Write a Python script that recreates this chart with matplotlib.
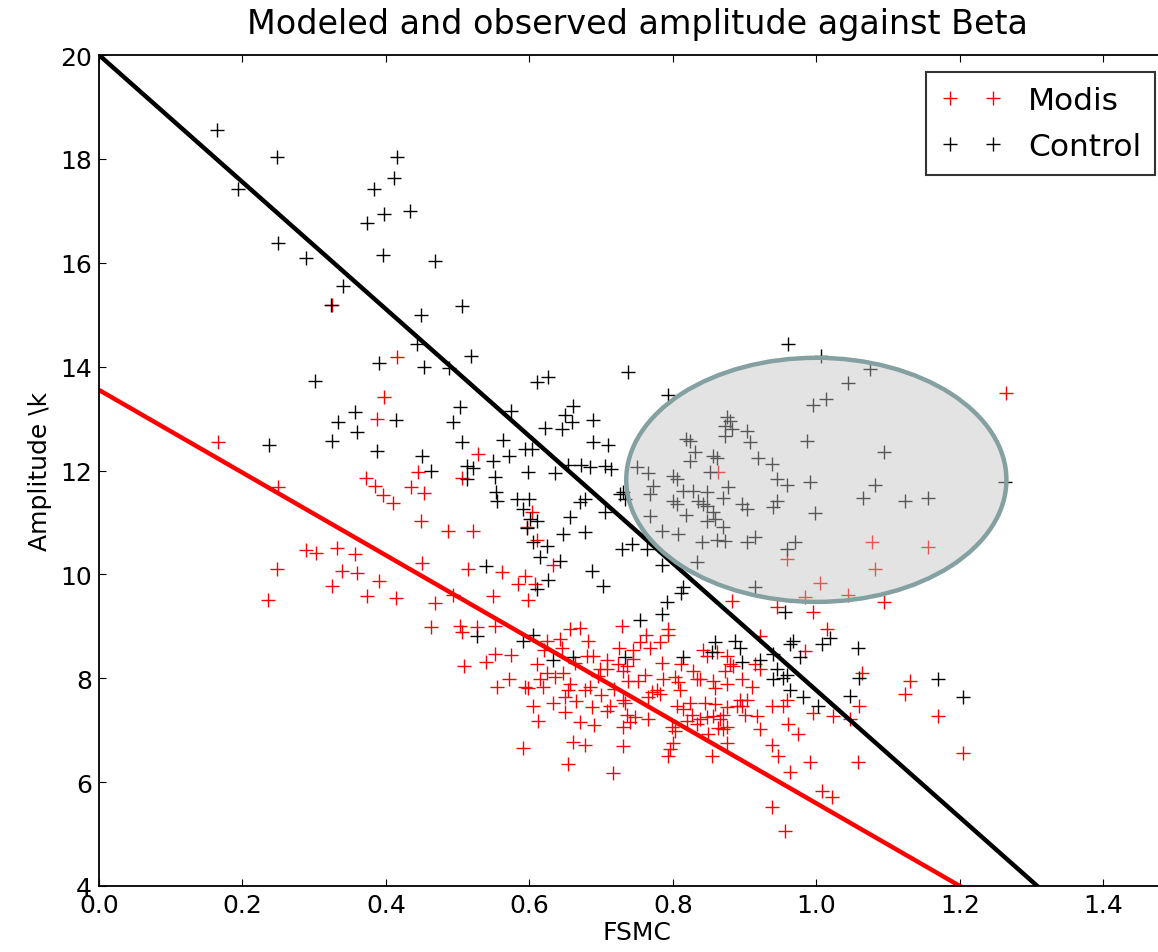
import numpy as np
import matplotlib
matplotlib.use('Agg')
import matplotlib.pyplot as plt
from matplotlib.patches import Ellipse

# Modis points (FSMC, amplitude)
modis_x = [0.325, 0.415, 0.397, 0.387, 0.166, 0.249, 0.372, 0.385, 0.396, 0.41, 0.445, 0.435, 0.453,
           0.528, 0.506, 0.449, 0.486, 0.521, 0.603, 0.597, 0.61, 0.288, 0.302, 0.332, 0.357, 0.248,
           0.339, 0.36, 0.39, 0.325, 0.236, 0.373, 0.414, 0.45, 0.514, 0.562, 0.594, 0.584, 0.608,
           0.633, 0.549, 0.598, 0.468, 0.493, 0.463, 0.503, 0.506, 0.527, 0.552, 0.509, 0.54, 0.552,
           0.574, 0.61, 0.624, 0.615, 0.555, 0.572, 0.594, 0.598, 0.619, 0.624, 0.643, 0.656, 0.67,
           0.682, 0.645, 0.647, 0.656, 0.654, 0.677, 0.684, 0.68, 0.689, 0.649, 0.633, 0.605, 0.687,
           0.612, 0.67, 0.661, 0.677, 0.591, 0.654,
           0.729, 0.793, 0.793, 0.762, 0.754, 0.768, 0.744, 0.782, 0.785, 0.708, 0.708, 0.698, 0.723,
           0.736, 0.73, 0.737, 0.761, 0.786, 0.778, 0.771, 0.782, 0.803, 0.807, 0.81, 0.812, 0.828,
           0.833, 0.838, 0.856, 0.859, 0.842, 0.847, 0.861, 0.875, 0.879, 0.884, 0.872, 0.896, 0.91,
           0.921, 0.914, 0.921, 0.875, 0.712, 0.708, 0.73, 0.733, 0.765, 0.747, 0.74, 0.73, 0.765,
           0.806, 0.814, 0.824, 0.826, 0.82, 0.833, 0.838, 0.845, 0.859, 0.847, 0.856, 0.866, 0.87,
           0.875, 0.889, 0.896, 0.893, 0.903, 0.9, 0.863, 0.87, 0.875, 0.799, 0.803, 0.849, 0.8,
           0.796, 0.793, 0.854, 0.875, 0.917, 0.921, 0.938, 0.959, 0.953, 0.96, 0.974, 0.938, 0.946,
           0.963, 0.938, 0.73, 0.716, 0.736,
           1.005, 0.984, 1.044, 1.095, 0.995, 1.015, 0.984, 1.063, 1.13, 1.123, 1.06, 1.169, 0.995,
           1.023, 1.047, 0.991, 1.058, 1.204, 1.008, 1.022, 0.957,
           1.264, 0.882, 0.945, 0.863, 0.959, 1.077, 1.155, 1.082,
           0.62, 0.636, 0.663, 0.695, 0.718, 0.65, 0.69, 0.725, 0.752, 0.665, 0.7, 0.745]
modis_y = [15.18, 14.18, 13.41, 13.0, 12.54, 11.68, 11.85, 11.7, 11.52, 11.37, 11.97, 11.68, 11.56,
           12.31, 11.85, 11.02, 10.83, 10.83, 11.21, 10.92, 10.67, 10.46, 10.42, 10.5, 10.4, 10.1,
           10.06, 10.02, 9.88, 9.77, 9.5, 9.58, 9.54, 10.21, 10.1, 10.04, 9.96, 9.81, 9.81,
           10.19, 9.58, 9.5, 9.44, 9.61, 8.98, 9.0, 8.9, 8.98, 9.0, 8.23, 8.32, 8.46,
           8.44, 8.27, 8.11, 7.98, 7.84, 7.98, 7.84, 7.82, 7.84, 8.71, 8.75, 8.94, 8.96,
           8.71, 8.59, 8.11, 7.88, 7.78, 7.78, 7.84, 8.42, 8.42, 7.63, 7.53, 7.46, 7.44,
           7.17, 7.15, 6.78, 6.72, 6.65, 6.34,
           9.0, 8.94, 8.84, 8.84, 8.69, 8.59, 8.55, 8.69, 8.3, 8.36, 8.17, 8.17, 8.27,
           8.23, 8.13, 7.94, 8.07, 7.98, 7.78, 7.73, 7.69, 8.03, 7.92, 7.78, 8.27, 8.13,
           7.98, 7.98, 7.94, 7.82, 8.55, 8.42, 8.5, 8.42, 8.27, 8.23, 8.13, 7.98, 7.84,
           8.81, 8.27, 8.17, 7.88, 7.46, 7.36, 7.59, 7.53, 7.63, 7.25, 7.15, 7.07, 7.21,
           7.46, 7.4, 7.53, 7.3, 7.17, 7.11, 7.21, 7.53, 7.5, 7.25, 7.27, 7.21, 7.3,
           7.44, 7.46, 7.46, 7.59, 7.59, 7.3, 7.05, 7.02, 7.07, 7.07, 6.98, 6.92, 6.76,
           6.63, 6.5, 6.5, 6.76, 7.27, 7.02, 7.46, 7.59, 7.46, 7.11, 6.92, 6.72, 6.5,
           6.2, 5.53, 6.69, 6.18, 7.3,
           9.83, 9.56, 9.61, 9.46, 9.27, 8.94, 8.52, 8.11, 7.94, 7.69, 7.46, 7.27, 7.34,
           7.27, 7.21, 6.38, 6.38, 6.57, 5.82, 5.72, 5.06,
           13.5, 9.48, 9.38, 11.98, 10.29, 10.62, 10.52, 10.1,
           8.55, 8.02, 8.3, 8.05, 7.8, 7.35, 7.1, 8.58, 7.95, 7.56, 7.68, 8.38]

# Control points (FSMC, amplitude)
control_x = [0.165, 0.194, 0.248, 0.25, 0.289, 0.324, 0.34, 0.415, 0.411, 0.383, 0.397, 0.373, 0.433,
             0.396, 0.468, 0.449, 0.506, 0.443, 0.518, 0.39, 0.453, 0.488, 0.301, 0.503, 0.574, 0.61,
             0.626, 0.357, 0.333, 0.414, 0.36, 0.494, 0.563, 0.325, 0.237, 0.506, 0.649, 0.661,
             0.659, 0.645, 0.622, 0.688,
             0.387, 0.45, 0.463, 0.513, 0.521, 0.513, 0.549, 0.572, 0.594, 0.603, 0.552, 0.553, 0.555,
             0.583, 0.598, 0.6, 0.636, 0.654, 0.672, 0.685, 0.705, 0.714, 0.677, 0.67, 0.591, 0.601,
             0.61, 0.597, 0.656, 0.647, 0.677, 0.605, 0.624, 0.615, 0.643, 0.54, 0.626, 0.61, 0.687,
             0.591, 0.605, 0.527, 0.633, 0.661,
             0.689, 0.709, 0.737, 0.703, 0.729, 0.743, 0.731, 0.733, 0.726, 0.705,
             0.96, 0.793, 0.764, 0.785, 0.814, 0.812, 1.263,
             0.792, 0.785, 0.754, 0.733, 0.814, 0.859, 0.854, 0.886, 0.893, 0.896, 0.921, 0.94, 0.945,
             0.94, 0.953, 0.959, 0.963, 0.967, 0.977, 0.963, 0.981, 0.956,
             1.008, 1.019, 1.058, 1.002, 1.047, 1.06, 1.169, 1.204,
             1.006, 1.075, 1.044, 0.995, 1.013, 0.875, 0.879, 0.872, 0.882, 0.903, 0.907, 0.872, 0.819,
             0.824, 0.987, 0.831, 0.824, 0.856, 0.861, 0.918, 0.938, 1.095, 0.75, 0.765, 0.852, 0.8,
             0.806, 0.945, 0.959, 0.991, 1.082, 0.772, 0.814, 0.828, 0.847, 0.877, 0.768, 0.8, 0.806,
             0.835, 0.842, 0.847, 0.87, 0.896, 0.903, 0.945, 0.94, 1.065, 1.123, 1.155, 0.998, 0.819,
             0.856, 0.768, 0.847, 0.859, 0.87, 0.785, 0.807, 0.84, 0.861, 0.872, 0.903, 0.914, 0.959,
             0.97, 0.833, 0.914]
control_y = [18.55, 17.42, 18.04, 16.38, 16.1, 15.18, 15.55, 18.03, 17.63, 17.42, 16.94, 16.76, 17.0,
             16.15, 16.03, 15.0, 15.16, 14.43, 14.2, 14.07, 13.99, 13.97, 13.72, 13.22, 13.14, 13.7,
             13.8, 13.12, 12.93, 12.97, 12.74, 12.93, 12.58, 12.56, 12.49, 12.54, 13.06, 13.24,
             12.93, 12.79, 12.82, 12.97,
             12.37, 12.27, 12.0, 12.08, 12.04, 11.83, 12.18, 12.27, 12.41, 12.41, 11.87, 11.58, 11.41,
             11.45, 11.98, 11.46, 11.96, 12.1, 12.1, 12.06, 12.08, 12.02, 11.45, 11.39, 11.25, 11.06,
             11.02, 10.9, 11.1, 10.77, 10.81, 10.62, 10.54, 10.33, 10.25, 10.17, 9.9, 9.71, 10.06,
             8.71, 8.84, 8.81, 8.36, 8.4,
             12.54, 12.5, 13.9, 9.77, 10.48, 10.58, 11.58, 11.45, 11.54, 11.21,
             14.43, 13.45, 10.48, 10.19, 9.75, 9.65, 11.77,
             9.46, 9.23, 9.13, 8.4, 8.4, 8.69, 8.5, 8.71, 8.59, 8.32, 8.36, 8.46, 8.17,
             7.98, 8.01, 8.07, 8.65, 8.71, 8.4, 7.78, 7.63, 9.27,
             8.65, 8.77, 8.59, 7.46, 7.65, 8.01, 7.98, 7.63,
             14.2, 13.95, 13.68, 13.27, 13.37, 13.03, 12.95, 12.85, 12.8, 12.76, 12.54, 12.66, 12.6,
             12.56, 12.56, 12.35, 12.18, 12.27, 12.25, 12.25, 12.12, 12.35, 12.06, 11.96, 11.98, 11.89,
             11.83, 11.83, 11.73, 11.77, 11.73, 11.7, 11.6, 11.6, 11.58, 11.68, 11.54, 11.41, 11.35,
             11.41, 11.35, 11.31, 11.48, 11.35, 11.25, 11.41, 11.29, 11.48, 11.41, 11.48, 11.19, 11.15,
             11.21, 11.12, 11.02, 11.06, 10.92, 10.83, 10.77, 10.62, 10.67, 10.64, 10.62, 10.71, 10.48,
             10.62, 10.23, 9.75]

# fitted lines (end points)
modis_fit_x = [0.0, 1.2]
modis_fit_y = [13.55, 4.0]
control_fit_x = [0.0, 1.308]
control_fit_y = [20.0, 4.0]

# highlighted region
region_center = (1.0, 11.82)
region_w = 0.53
region_h = 4.7

fig = plt.figure(figsize=(11.58, 9.53), dpi=100)
ax = fig.add_axes([99/1158, 66/953, 1076/1158, 831/953])

ax.plot(modis_x, modis_y, 'r+', markersize=10, markeredgewidth=1.0, label='Modis')
ax.plot(control_x, control_y, 'k+', markersize=10, markeredgewidth=1.0, label='Control')
ax.plot(modis_fit_x, modis_fit_y, color='red', linewidth=3.2)
ax.plot(control_fit_x, control_fit_y, color='black', linewidth=3.2)

ell = Ellipse(region_center, region_w, region_h, facecolor=(0.76, 0.76, 0.76, 0.45),
              edgecolor='#84a0a0', linewidth=3.2, zorder=5)
ax.add_patch(ell)

ax.set_xlim(0, 1.5)
ax.set_ylim(4, 20)
ax.set_xticks(np.arange(0, 1.41, 0.2))
ax.set_yticks(range(4, 21, 2))
ax.tick_params(direction='in', top=True, right=True, length=5, labelsize=18, pad=5)
for s in ax.spines.values():
    s.set_linewidth(1.3)

ax.set_title('Modeled and observed amplitude against Beta', fontsize=24, pad=16)
ax.set_xlabel('FSMC', fontsize=18, labelpad=2)
ax.set_ylabel('Amplitude \\k', fontsize=18, labelpad=6)

leg = ax.legend(loc='upper right', bbox_to_anchor=(1155/1158, 880/953),
                bbox_transform=fig.transFigure, numpoints=2, fontsize=22.5,
                handlelength=2.0, handletextpad=0.8, labelspacing=0.55,
                borderpad=0.45, borderaxespad=0, fancybox=False)
leg.get_frame().set_edgecolor('black')
leg.get_frame().set_linewidth(1.5)

fig.savefig('out.png', dpi=100)
